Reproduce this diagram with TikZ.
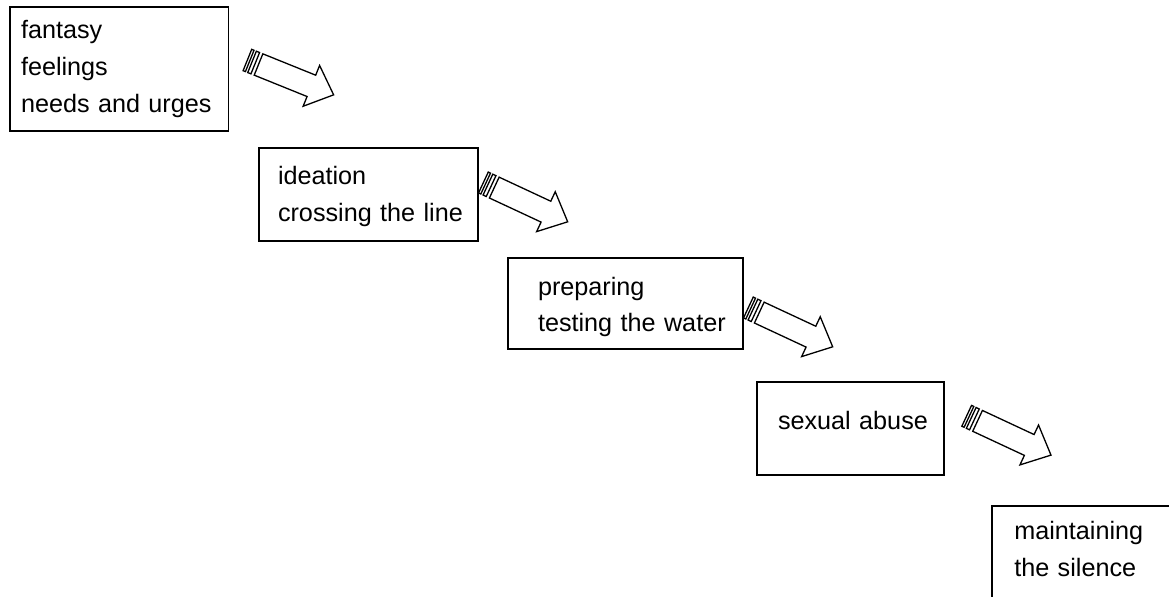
\documentclass[tikz,border=0pt]{standalone}
\usepackage{fontspec}
\setmainfont{Liberation Sans}
\usetikzlibrary{positioning}
\hyphenpenalty=10000

\begin{document}
\begin{tikzpicture}[
        x=0.5pt, y=-0.5pt,
        stage/.style={draw, rectangle, line width=0.9pt, align=left, inner ysep=0pt, font=\fontsize{12.6pt}{18.3pt}\selectfont},
        stripearrow/.pic={
            \draw[fill=white, line width=0.65pt] (0,-11.5) rectangle (2.5,11.5);
            \draw[fill=white, line width=0.65pt] (5,-11.5) rectangle (8.5,11.5);
            \draw[fill=white, line width=0.65pt, line join=miter] (12,-11.5) -- (69,-11.5) -- (69,-22) -- (93,0) -- (69,22) -- (69,11.5) -- (12,11.5) -- cycle;
        }
    ]

    % Rahmen
    \useasboundingbox (0,0) rectangle (1169,596);
    \clip (0,0) rectangle (1169,596);

    % Phase 1
    \node[stage, minimum height=62pt, text width=98.25pt, inner xsep=5.5pt] (fantasy) at (119.25,69) {fantasy\\feelings\\needs and urges};

    % Phase 2
    \node[stage, minimum height=46.5pt, text width=90.5pt, inner xsep=9.5pt, text depth=18.7pt] (ideation) at (368.5,194.5) {ideation\\crossing~the~line};

    % Phase 3
    \node[stage, minimum height=45.5pt, text width=87.5pt, inner xsep=15pt, text depth=17.45pt] (preparing) at (625.5,303.5) {preparing\\testing~the~water};

    % Phase 4
    \node[stage, minimum height=46.5pt, text width=72.5pt, inner xsep=10.5pt, text depth=7.7pt] (abuse) at (850.5,428.5) {sexual~abuse};

    % Phase 5 (unten rechts abgeschnitten)
    \node[stage, minimum height=49pt, text width=82.4pt, inner xsep=11.3pt, text depth=24.2pt] (silence) at (1096.7,555) {maintaining\\the silence};

    % Pfeile zwischen den Phasen
    \pic[rotate=-22] at ([xshift=9pt,yshift=4.5pt]fantasy.east) {stripearrow};
    \pic[rotate=-25] at ([xshift=2.25pt,yshift=6pt]ideation.east) {stripearrow};
    \pic[rotate=-25] at ([xshift=2.25pt,yshift=-2pt]preparing.east) {stripearrow};
    \pic[rotate=-25] at ([xshift=10.9pt,yshift=6.35pt]abuse.east) {stripearrow};

\end{tikzpicture}
\end{document}
